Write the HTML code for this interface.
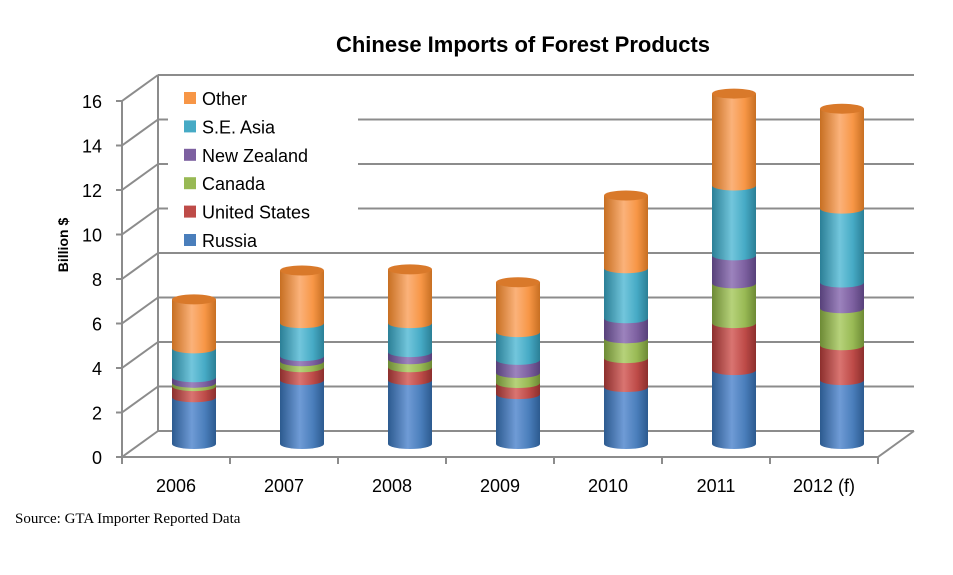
<!DOCTYPE html>
<html><head><meta charset="utf-8"><style>
body{margin:0;background:#fff;width:953px;height:570px;overflow:hidden;font-family:"Liberation Sans",sans-serif}
</style></head><body>
<svg width="953" height="570" xmlns="http://www.w3.org/2000/svg">
<defs id="defs"></defs>
<text x="523" y="52" text-anchor="middle" font-size="22" font-weight="bold" fill="#000">Chinese Imports of Forest Products</text>
<g id="grid"></g>
<g id="axis"></g>
<g id="bars"></g>
<g id="legend"></g>
<text transform="translate(68,245) rotate(-90)" text-anchor="middle" font-size="14" font-weight="bold">Billion $</text>
<text x="15" y="523" font-family="Liberation Serif,serif" font-size="15">Source: GTA Importer Reported Data</text>
</svg>
<script>
const categories=["2006","2007","2008","2009","2010","2011","2012 (f)"];
const seriesNames=["Russia","United States","Canada","New Zealand","S.E. Asia","Other"];
const russia=[2.1,2.87,2.87,2.24,2.56,3.32,2.87];
const unitedStates=[0.5,0.58,0.58,0.5,1.3,2.11,1.57];
const canada=[0.15,0.27,0.36,0.45,0.89,1.79,1.66];
const newZealand=[0.25,0.23,0.32,0.59,0.9,1.26,1.16];
const seAsia=[1.3,1.48,1.3,1.25,2.25,3.14,3.32];
const other=[2.2,2.37,2.42,2.24,3.27,4.13,4.49];
const yTicks=[0,2,4,6,8,10,12,14,16];
const series=[russia,unitedStates,canada,newZealand,seAsia,other];
const colors=["#4a7ebb","#be4b48","#98b954","#7d60a0","#46aac5","#f79646"];
const dark=["#2c5a8f","#8c2f2d","#6d8a35","#57417a","#2b7f96","#c76f22"];
const light=["#6f9bd6","#d97471","#b6d27a","#9c83bd","#72c6dc","#fbb27a"];
const NS="http://www.w3.org/2000/svg";
const FX=122,FY=457,U=22.25,DX=36,DY=-26,STEP=108;
const fy=v=>FY-v*U;
const by=v=>FY+DY-v*U;
const cy=v=>FY+DY/2-v*U;
function mk(tag,attrs,parent){const e=document.createElementNS(NS,tag);for(const k in attrs)e.setAttribute(k,attrs[k]);parent.appendChild(e);return e;}
const grid=document.getElementById('grid'),axis=document.getElementById('axis'),bars=document.getElementById('bars'),legend=document.getElementById('legend'),defs=document.getElementById('defs');
const right=FX+STEP*categories.length;
yTicks.forEach(v=>{
  const l=mk('line',{x1:FX+DX,y1:by(v),x2:right+DX,y2:by(v),stroke:'#8c8c8c','stroke-width':2},grid);
  
  
  const d=mk('line',{x1:FX,y1:fy(v),x2:FX+DX,y2:by(v),stroke:'#8c8c8c','stroke-width':2},grid);
  
  
  const t=mk('line',{x1:FX-6,y1:fy(v),x2:FX,y2:fy(v),stroke:'#8c8c8c','stroke-width':2},axis);
  
  
  const tx=mk('text',{x:FX-20,y:fy(v)+7,'text-anchor':'end','font-size':18},axis);
  tx.textContent=v;
  
  
});
mk('line',{x1:FX+DX,y1:by(0),x2:FX+DX,y2:by(16),stroke:'#8c8c8c','stroke-width':2},grid);
mk('line',{x1:FX,y1:FY,x2:FX,y2:fy(16),stroke:'#8c8c8c','stroke-width':2},axis);
mk('line',{x1:FX,y1:FY,x2:right,y2:FY,stroke:'#8c8c8c','stroke-width':2},axis);
mk('line',{x1:right,y1:FY,x2:right+DX,y2:FY+DY,stroke:'#8c8c8c','stroke-width':2},axis);
for(let i=0;i<=categories.length;i++){
  mk('line',{x1:FX+STEP*i,y1:FY,x2:FX+STEP*i,y2:FY+7,stroke:'#8c8c8c','stroke-width':2},axis);
}
colors.forEach((c,i)=>{
  const g=mk('linearGradient',{id:'g'+i,x1:0,x2:1,y1:0,y2:0},defs);
  mk('stop',{offset:'0','stop-color':dark[i]},g);
  mk('stop',{offset:'0.45','stop-color':light[i]},g);
  mk('stop',{offset:'0.75','stop-color':c},g);
  mk('stop',{offset:'1','stop-color':dark[i]},g);
});
// legend
const lb=mk('rect',{x:168,y:80,width:190,height:172,fill:'#fff'},legend);
const legendOrder=[5,4,3,2,1,0];
legendOrder.forEach((si,r)=>{
  const y=98+r*28.4;
  const s=mk('rect',{x:184,y:y-6,width:12,height:12,fill:colors[si]},legend);
  
  
  const t=mk('text',{x:202,y:y+7,'font-size':18},legend);
  t.textContent=seriesNames[si];
  
  
});
const RX=22,RY=5;
categories.forEach((cat,i)=>{
  const cx=FX+STEP*i+STEP/2+DX/2;
  const l=cx-RX,r=cx+RX;
  const lab=mk('text',{x:FX+STEP*i+STEP/2,y:FY+35,'text-anchor':'middle','font-size':18},axis);
  lab.textContent=cat;
  
  
  let cum=0;
  series.forEach((arr,si)=>{
    const y0=cy(cum);cum+=arr[i];const y1=cy(cum);
    const p=mk('path',{d:`M${l},${y1} L${l},${y0} A${RX},${RY} 0 0 0 ${r},${y0} L${r},${y1} Z`,fill:`url(#g${si})`},bars);
    
    
  });
  const cap=mk('ellipse',{cx:cx,cy:cy(cum),rx:RX,ry:RY,fill:'#d9792a'},bars);
  
  
});
</script>
</body></html>
